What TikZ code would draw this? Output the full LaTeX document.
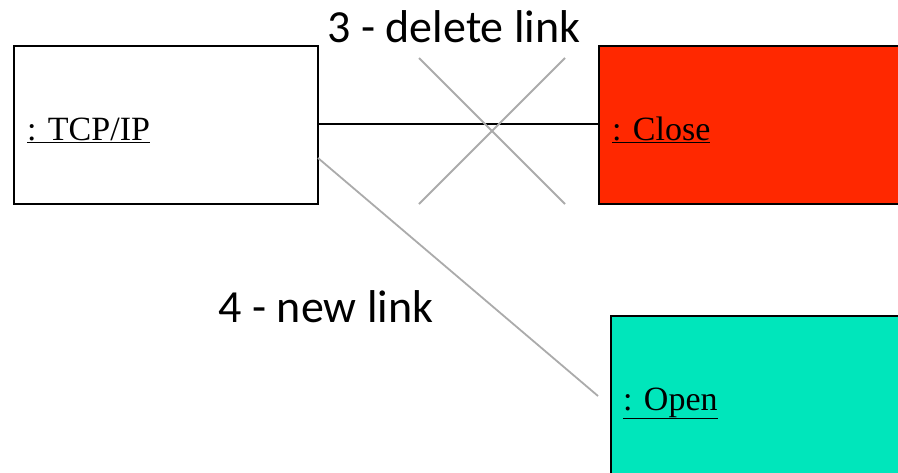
\documentclass[tikz,border=0pt]{standalone}
\usepackage{fontspec}
\setmainfont{Liberation Serif}
\newfontfamily\labelfont{Carlito}
\begin{document}
\begin{tikzpicture}[x=1pt,y=-1pt,
  objbox/.style={draw=black,line width=2.2pt},
  objname/.style={anchor=base west,inner sep=0pt,font=\fontsize{34}{34}\selectfont},
  steplabel/.style={anchor=base,inner sep=0pt,font=\labelfont\fontsize{46}{46}\selectfont},
  oldlink/.style={draw=black,line width=2.2pt},
  greyline/.style={draw=black!33,line width=1.8pt}]
\useasboundingbox (0,0) rectangle (898,472);
\clip (0,0) rectangle (898,472);
% objects
\path[objbox,fill=white] (14,46) rectangle (318,204);
\path[objbox,fill={rgb,255:red,255;green,40;blue,0}] (599,46) rectangle (920,204);
\path[objbox,fill={rgb,255:red,0;green,230;blue,187}] (611,316) rectangle (920,490);
\node[objname] (tcp) at (27,140) {\underline{: TCP/IP}};
\node[objname] (close) at (612,140) {\underline{: Close}};
\node[objname] (open) at (623,410) {\underline{: Open}};
\coordinate (tcpE) at (318,124);
\coordinate (closeW) at (599,124);
\coordinate (tcpSE) at (318,158);
\coordinate (openW) at (598,396);
% link being removed, with its cross
\draw[oldlink] (tcpE) -- (closeW);
\coordinate (x1) at (419,58);
\coordinate (x2) at (565,204);
\coordinate (x3) at (565,58);
\coordinate (x4) at (419,204);
\draw[greyline] (x1) -- (x2);
\draw[greyline] (x3) -- (x4);
% new link
\draw[greyline] (tcpSE) -- (openW);
% step labels
\node[steplabel] (del) at (454,42) {3 - delete link};
\node[steplabel] (new) at (326,322) {4 - new link};
\end{tikzpicture}
\end{document}
